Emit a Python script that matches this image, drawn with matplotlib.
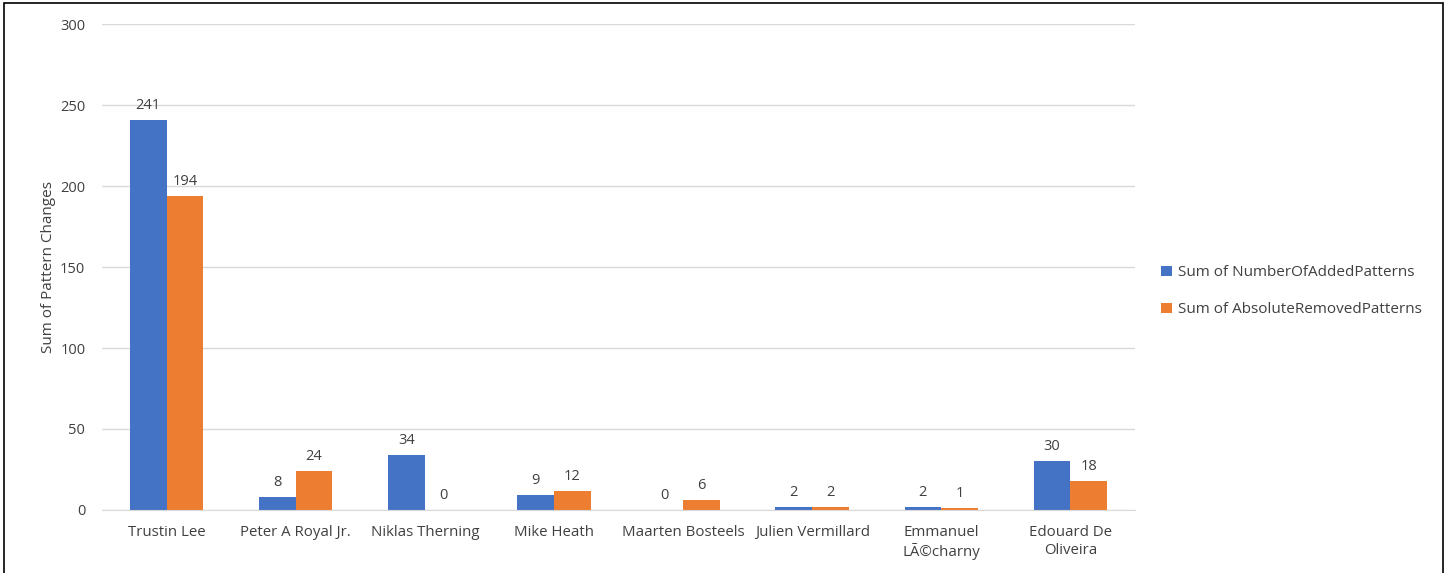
import matplotlib.pyplot as plt
import numpy as np
from matplotlib.patches import Rectangle

# data
authors = ["Trustin Lee", "Peter A Royal Jr.", "Niklas Therning", "Mike Heath",
           "Maarten Bosteels", "Julien Vermillard", "Emmanuel\nLÃ©charny", "Edouard De\nOliveira"]
added = [241, 8, 34, 9, 0, 2, 2, 30]
removed = [194, 24, 0, 12, 6, 2, 1, 18]

blue = "#4472C4"
orange = "#ED7D31"
txt = "#404040"

plt.rcParams['font.family'] = ['Open Sans', 'DejaVu Sans']

fig = plt.figure(figsize=(14.49, 5.73), dpi=100)
ax = fig.add_axes([0.0704, 0.110, 0.7129, 0.848])

x = np.arange(len(authors))
w = 0.285
b1 = ax.bar(x - w / 2, added, w, color=blue, label="Sum of NumberOfAddedPatterns")
b2 = ax.bar(x + w / 2, removed, w, color=orange, label="Sum of AbsoluteRemovedPatterns")

for bars in (b1, b2):
    for r in bars:
        ax.annotate(str(int(r.get_height())), (r.get_x() + r.get_width() / 2, r.get_height()),
                    xytext=(0, 5), textcoords="offset points", ha="center", va="bottom",
                    fontsize=10.5, color=txt)

ax.set_xlim(-0.5, len(authors) - 0.5)
ax.set_ylim(0, 300)
ax.set_yticks(range(0, 301, 50))
ax.set_xticks(x)
ax.set_xticklabels(authors, fontsize=10.8, color=txt, linespacing=1.25)
ax.tick_params(axis="y", labelsize=10.5, labelcolor=txt, length=0, pad=12)
ax.tick_params(axis="x", length=0, pad=11)
ax.grid(axis="y", color="#D9D9D9", linewidth=1)
ax.set_axisbelow(True)
for s in ["top", "right", "left"]:
    ax.spines[s].set_visible(False)
ax.spines["bottom"].set_color("#D9D9D9")
ax.set_ylabel("Sum of Pattern Changes", fontsize=11, color=txt, labelpad=3)

ax.legend(loc="center left", bbox_to_anchor=(1.012, 0.45), frameon=False, fontsize=11,
          handlelength=0.7, handleheight=0.7, handletextpad=0.4, labelspacing=1.45,
          labelcolor=txt)

fig.patches.append(Rectangle((0.003, -0.01), 0.993, 1.005, transform=fig.transFigure,
                             fill=False, edgecolor="black", linewidth=1.2))

fig.savefig("out.png", dpi=100)
